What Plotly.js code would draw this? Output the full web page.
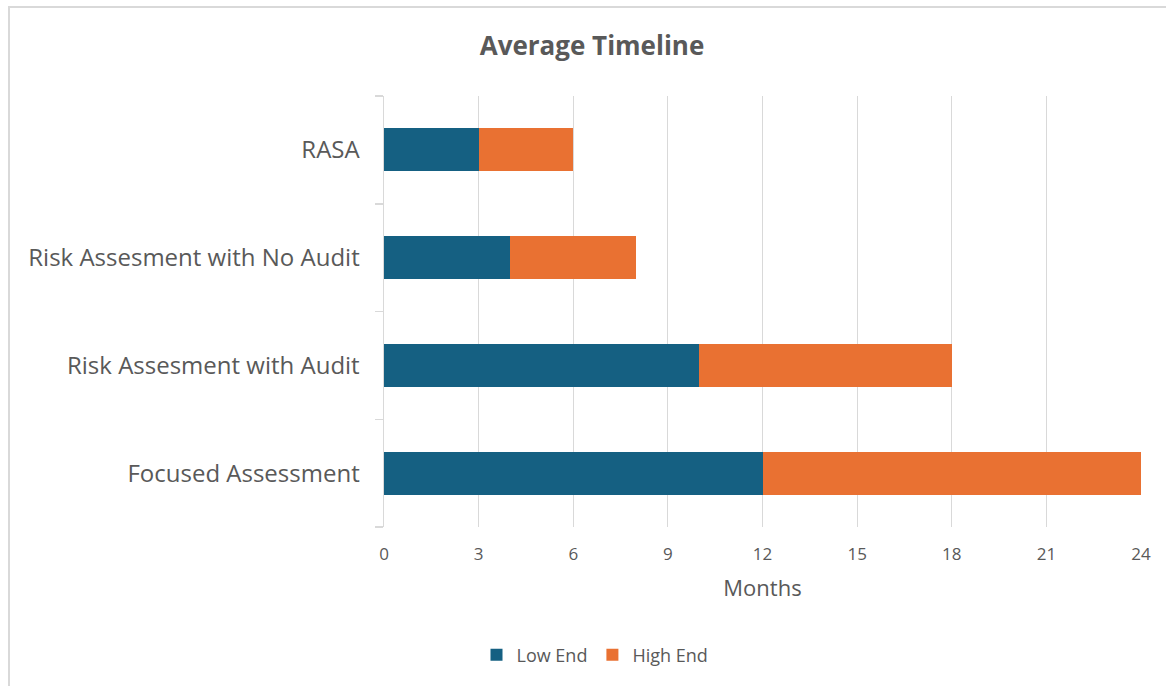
<!DOCTYPE html>
<html>
<head>
<meta charset="utf-8">
<script src="https://cdn.plot.ly/plotly-3.0.1.min.js"></script>
<style>
  html, body { margin: 0; padding: 0; background: #ffffff; }
  #frame { position: absolute; left: 8px; top: 6px; width: 1158px; height: 680px;
           border-top: 2px solid #d9d9d9; border-left: 2px solid #d9d9d9; box-sizing: border-box; }
  #chart { position: absolute; left: 0; top: 0; width: 1166px; height: 686px; }
</style>
</head>
<body>
<div id="frame"></div>
<div id="chart"></div>
<script>
const categories = ["Focused Assessment", "Risk Assesment with Audit", "Risk Assesment with No Audit", "RASA"];
const lowEnd = [12, 10, 4, 3];
const highEnd = [12, 8, 4, 3];
const xTicks = [0, 3, 6, 9, 12, 15, 18, 21, 24];

const fontFamily = "'Open Sans', sans-serif";

const traces = [
  { type: "bar", orientation: "h", name: "Low End", y: categories, x: lowEnd,
    marker: { color: "#156082" }, hoverinfo: "skip" },
  { type: "bar", orientation: "h", name: "High End", y: categories, x: highEnd,
    marker: { color: "#E97132" }, hoverinfo: "skip" }
];

const layout = {
  width: 1166, height: 686,
  paper_bgcolor: "rgba(0,0,0,0)", plot_bgcolor: "rgba(0,0,0,0)",
  barmode: "stack", bargap: 0.6,
  margin: { l: 384, r: 25, t: 96, b: 159 },
  font: { family: fontFamily, color: "#595959" },
  title: { text: "<b>Average Timeline</b>", x: 592 / 1166, xref: "container", xanchor: "center",
           y: 1 - 46 / 686, yref: "container", yanchor: "middle",
           font: { size: 26, color: "#595959", family: fontFamily } },
  xaxis: {
    range: [0, 24], tickvals: xTicks, ticktext: xTicks.map(String),
    showgrid: true, gridcolor: "#d9d9d9", gridwidth: 1,
    zeroline: false, showline: false, ticks: "",
    tickfont: { size: 17, color: "#595959" }, ticklabelstandoff: 15,
    title: { text: "Months", font: { size: 22, color: "#595959" }, standoff: 16 },
    fixedrange: true
  },
  yaxis: {
    type: "category", showline: true, linecolor: "#d9d9d9", linewidth: 1.5,
    ticks: "outside", tickson: "boundaries", ticklen: 8, tickcolor: "#d9d9d9", tickwidth: 1.5,
    showgrid: false, zeroline: false,
    tickfont: { size: 24, color: "#595959" }, ticklabelstandoff: 18,
    fixedrange: true
  },
  showlegend: true,
  legend: { orientation: "h", x: 595 / 1166, xanchor: "center", xref: "container",
            y: 1 - 655 / 686, yref: "container", yanchor: "middle",
            font: { size: 18, color: "#595959" }, traceorder: "normal",
            itemwidth: 30, itemsizing: "constant" }
};

Plotly.newPlot("chart", traces, layout, { displayModeBar: false, staticPlot: true });
</script>
</body>
</html>
